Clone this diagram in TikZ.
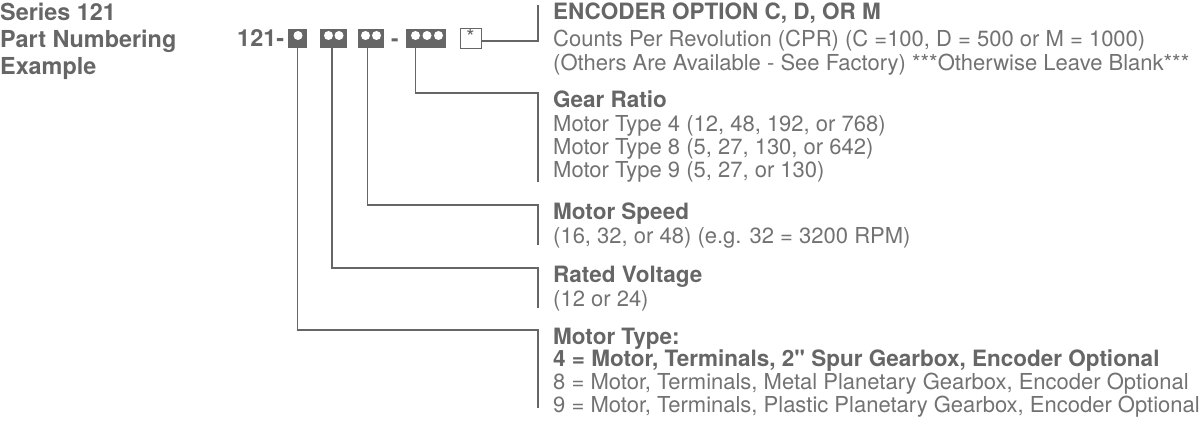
\documentclass[tikz,border=0pt]{standalone}
\usepackage{fontspec}
\setmainfont{TeX Gyre Heros}[Ligatures=TeXOff]
\definecolor{tg}{HTML}{666666}
\definecolor{tl}{HTML}{727272}
\begin{document}
\begin{tikzpicture}[x=1pt,y=-1pt,
  hd/.style={anchor=base west,inner sep=0pt,text=tg,font=\fontsize{22.5}{26}\selectfont\bfseries},
  tx/.style={anchor=base west,inner sep=0pt,text=tl,font=\fontsize{22}{26}\selectfont},
  ttl/.style={anchor=base west,inner sep=0pt,text=tg,font=\fontsize{23.4}{27}\selectfont\bfseries},
  box/.style={fill=tg,minimum height=19pt,inner sep=0pt},
  dot/.style={circle,fill=white,inner sep=0pt,minimum size=9pt},
  ln/.style={draw=tg,line width=1.4pt}]
\useasboundingbox (0,0) rectangle (1200,427);
% left title
\node[ttl] (t1) at (0,21) {Series 121};
\node[ttl] (t2) at (0,48) {Part Numbering};
\node[ttl] (t3) at (0,75) {Example};
% part number
\node[hd,font=\fontsize{23.5}{26}\selectfont\bfseries] (pn) at (237,47) {121-};
\node[box,minimum width=19pt] (b1) at (297.5,38.5) {};
\node[box,minimum width=27pt] (b2) at (333.5,38.5) {};
\node[box,minimum width=26pt] (b3) at (371,38.5) {};
\node[hd] (dash) at (391,47) {-};
\node[box,minimum width=40pt] (b4) at (426,38.5) {};
\node[draw=tg,line width=1pt,fill=white,minimum width=21pt,minimum height=19pt,inner sep=0pt,
      text=tg,font=\fontsize{21}{22}\selectfont,text depth=4pt] (b5) at (470.5,38.5) {*};
\node[dot] (d1) at (298,35.5) {};
\node[dot] (d2a) at (328.5,35.5) {};
\node[dot] (d2b) at (339,35.5) {};
\node[dot] (d3a) at (365.5,35.5) {};
\node[dot] (d3b) at (376.5,35.5) {};
\node[dot] (d4a) at (415.5,35.5) {};
\node[dot] (d4b) at (427,35.5) {};
\node[dot] (d4c) at (438.5,35.5) {};
% bracket coordinates
\coordinate (e1) at (538,41);
\coordinate (e2) at (538,5);
\coordinate (g1) at (538,93);
\coordinate (g2) at (538,182);
\coordinate (s1) at (538,205);
\coordinate (s2) at (538,245);
\coordinate (v1) at (538,268);
\coordinate (v2) at (538,308);
\coordinate (m1) at (538,330);
\coordinate (m2) at (538,408);
% connectors
\draw[ln] (b5.east |- e1) -- (e1) -- (e2);
\draw[ln] (b4.south -| d4a) |- (g1) -- (g2);
\draw[ln] (b3.south -| d3a) ++(2,0) |- (s1) -- (s2);
\draw[ln] (b2.south -| d2a) ++(3.5,0) |- (v1) -- (v2);
\draw[ln] (b1.south) |- (m1) -- (m2);
% texts
\node[hd] (enc0) at (553,20) {ENCODER OPTION C, D, OR M};
\node[tx] (enc1) at (553,47) {Counts Per Revolution (CPR) (C =100, D = 500 or M = 1000)};
\node[tx] (enc2) at (553,71) {(Others Are Available - See Factory) ***Otherwise Leave Blank***};
\node[hd] (gr0) at (553,108) {Gear Ratio};
\node[tx] (gr1) at (553,132) {Motor Type 4 (12, 48, 192, or 768)};
\node[tx] (gr2) at (553,155) {Motor Type 8 (5, 27, 130, or 642)};
\node[tx] (gr3) at (553,178) {Motor Type 9 (5, 27, or 130)};
\node[hd] (ms0) at (553,220) {Motor Speed};
\node[tx] (ms1) at (553,244) {(16, 32, or 48) (e.g. 32 = 3200 RPM)};
\node[hd] (rv0) at (553,283) {Rated Voltage};
\node[tx] (rv1) at (553,307) {(12 or 24)};
\node[hd] (mt0) at (553,345) {Motor Type:};
\node[hd] (mt1) at (553,367) {4 = Motor, Terminals, 2" Spur Gearbox, Encoder Optional};
\node[tx] (mt2) at (553,390) {8 = Motor, Terminals, Metal Planetary Gearbox, Encoder Optional};
\node[tx] (mt3) at (553,413) {9 = Motor, Terminals, Plastic Planetary Gearbox, Encoder Optional};
\end{tikzpicture}
\end{document}
